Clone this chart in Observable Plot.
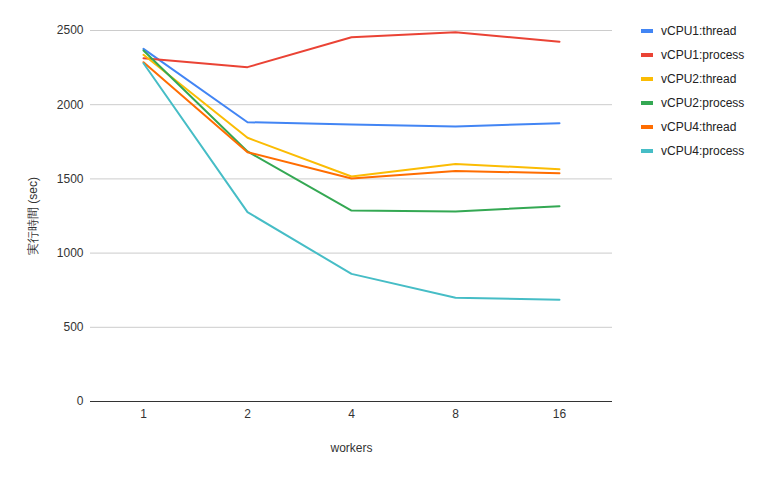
<!DOCTYPE html>
<html>
<head>
<meta charset="utf-8">
<script src="https://cdn.jsdelivr.net/npm/d3@7"></script>
<script src="https://cdn.jsdelivr.net/npm/@observablehq/plot@0.6"></script>
<style>
  html, body { margin: 0; padding: 0; background: #fff; }
  #wrap { position: relative; width: 772px; height: 478px; font-family: Arial, "Liberation Sans", sans-serif; }
  #legend { position: absolute; left: 641px; top: 19px; font-size: 12px; color: #222; }
  .item { display: flex; align-items: center; height: 24px; line-height: 14px; }
  .sw { width: 12px; height: 4px; margin-right: 8px; }
</style>
</head>
<body>
<div id="wrap"><div id="chart"></div><div id="legend"></div></div>
<script>
const workers = ["1", "2", "4", "8", "16"];
const seriesNames = ["vCPU1:thread", "vCPU1:process", "vCPU2:thread", "vCPU2:process", "vCPU4:thread", "vCPU4:process"];
const colors = ["#4285F4", "#EA4335", "#FBBC04", "#34A853", "#FF6D01", "#46BDC6"];
const vCPU1_thread  = [2376, 1882, 1866, 1853, 1875];
const vCPU1_process = [2313, 2253, 2455, 2488, 2424];
const vCPU2_thread  = [2336, 1777, 1516, 1601, 1565];
const vCPU2_process = [2365, 1685, 1287, 1280, 1316];
const vCPU4_thread  = [2286, 1680, 1503, 1554, 1538];
const vCPU4_process = [2279, 1276, 860, 699, 685];
const yTicks = [0, 500, 1000, 1500, 2000, 2500];

const allSeries = [vCPU1_thread, vCPU1_process, vCPU2_thread, vCPU2_process, vCPU4_thread, vCPU4_process];
const data = [];
allSeries.forEach((vals, i) => vals.forEach((v, j) => data.push({series: seriesNames[i], workers: workers[j], value: v})));

const chart = Plot.plot({
  width: 620,
  height: 478,
  marginLeft: 90,
  marginRight: 8,
  marginTop: 30,
  marginBottom: 77,
  style: {fontFamily: "Arial, 'Liberation Sans', sans-serif", fontSize: "12px", color: "#333"},
  x: {type: "point", domain: workers, padding: 0.5},
  y: {domain: [0, 2500]},
  color: {domain: seriesNames, range: colors},
  marks: [
    Plot.gridY(yTicks, {stroke: "#cccccc", strokeOpacity: 1}),
    Plot.axisY(yTicks, {tickSize: 0, tickPadding: 7, tickFormat: d => String(d), label: "実行時間 (sec)", labelArrow: false, labelAnchor: "center", labelOffset: 62, fill: "#333", fontSize: 12}),
    Plot.axisX({tickSize: 0, tickPadding: 8, label: "workers", labelArrow: false, labelAnchor: "center", labelOffset: 50, fill: "#333", fontSize: 12}),
    Plot.ruleY([0], {stroke: "#333"}),
    Plot.line(data, {x: "workers", y: "value", z: "series", stroke: "series", strokeWidth: 2})
  ]
});
document.getElementById("chart").appendChild(chart);

const legend = document.getElementById("legend");
seriesNames.forEach((name, i) => {
  const d = document.createElement("div");
  d.className = "item";
  d.innerHTML = `<div class="sw" style="background:${colors[i]}"></div><div>${name}</div>`;
  legend.appendChild(d);
});
</script>
</body>
</html>
